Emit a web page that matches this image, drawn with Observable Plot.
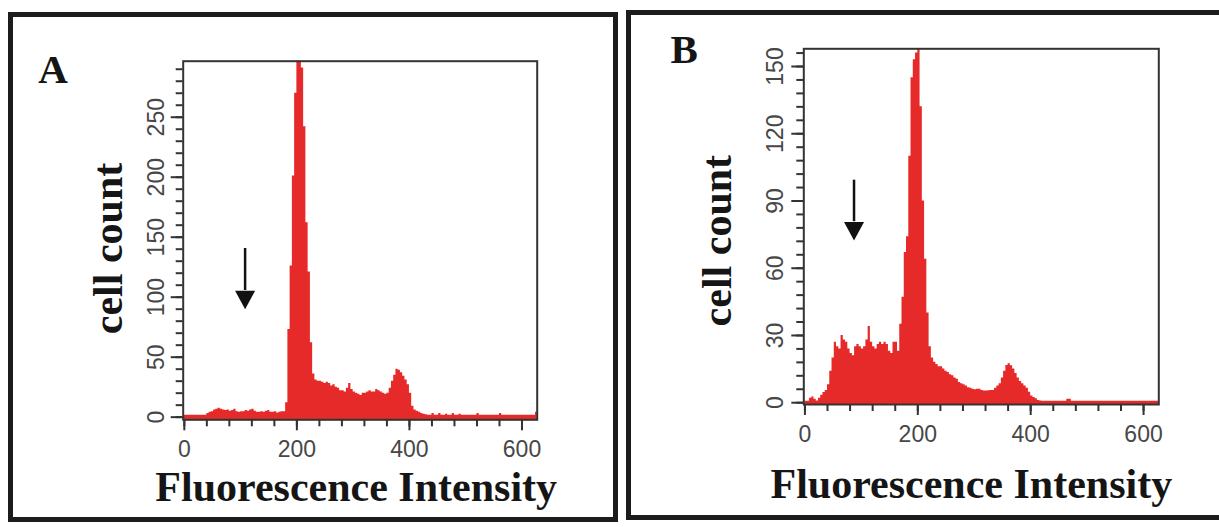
<!DOCTYPE html>
<html>
<head>
<meta charset="utf-8">
<script src="https://cdn.jsdelivr.net/npm/d3@7"></script>
<script src="https://cdn.jsdelivr.net/npm/@observablehq/plot@0.6"></script>
<style>
html, body { margin: 0; padding: 0; background: #fff; }
#wrap { position: relative; width: 1219px; height: 527px; overflow: hidden; background: #fff; }
.box { position: absolute; border: 5px solid #1c1c1c; box-sizing: border-box; }
.chart { position: absolute; top: 0; height: 527px; }
</style>
</head>
<body>
<div id="wrap">
  <div class="box" style="left:8px;top:12px;width:610px;height:510px"></div>
  <div class="box" style="left:626px;top:10px;width:620px;height:510px"></div>
  <div id="panelA" class="chart" style="left:0px;width:610px"></div>
  <div id="panelB" class="chart" style="left:620px;width:599px"></div>
</div>
<script>
// ---------- data ----------
const binWidth = 4;
const binStarts = [0,4,8,12,16,20,24,28,32,36,40,44,48,52,56,60,64,68,72,76,80,84,88,92,96,100,104,108,112,116,120,124,128,132,136,140,144,148,152,156,160,164,168,172,176,180,184,188,192,196,200,204,208,212,216,220,224,228,232,236,240,244,248,252,256,260,264,268,272,276,280,284,288,292,296,300,304,308,312,316,320,324,328,332,336,340,344,348,352,356,360,364,368,372,376,380,384,388,392,396,400,404,408,412,416,420,424,428,432,436,440,444,448,452,456,460,464,468,472,476,480,484,488,492,496,500,504,508,512,516,520,524,528,532,536,540,544,548,552,556,560,564,568,572,576,580,584,588,592,596,600,604,608,612,616,620,624];

const countsA = [
  1.5,1.5,1.5,1.5,1.5,1.5,1.5,1.5,1.5,1.5,
  3,4,4.5,6,6.5,7.5,6.5,6,5.5,6,
  5,5.5,6.5,4.5,4,4.5,4.5,5.5,5,6,
  6.5,5,4,4,4.5,4,5,5.5,4,4,
  4.5,3.5,4,4.5,4.5,12,73,126,201,270,
  300,297,291,242,162,121,62,36,31,30,
  30,29,28,29,28,26,27,25,24,22,
  22,21,24,28,23,21,20,19,18,20,
  20,21,22,21,21,23,22,21,20,19,
  20,24,30,35,40,39,37,34,31,27,
  20,9,6,5,4,3,2.5,2,1.5,1.5,
  3,1.5,1.5,3,1.5,1.5,2.5,1.5,1.5,3,
  1.5,1.5,2.5,1.5,1.5,1.5,1.5,1.5,1.5,1.5,
  3,1.5,1.5,1.5,1.5,1.5,1.5,1.5,1.5,1.5,
  3,1.5,1.5,1.5,1.5,1.5,1.5,1.5,1.5,1.5,
  1.5,1.5,1.5,1.5,1.5,1.5,4
];

const countsB = [
  0.7,0.7,2,2.5,1.5,0.8,2,3.3,4.5,5.5,
  8,14,20,27,25,24,30,28,27,24,
  22,21,25,26,25,24,25,28,34,27,
  25,24,26,27,26,27,26,23,22,27,
  27,23,35,47,67,74,110,145,153,156,
  160,132,90,64,40,25,20,18,17,16,
  16,15,14,13.5,12.5,12,11,10.5,9,8.5,
  8,7.5,6.7,6.5,6,5.8,6,6,5.5,5.2,
  5.2,5.3,5.5,5.5,6.5,7.5,8.5,11,14,16.6,
  17.4,16.5,15,13,11,9.5,8.5,7.5,6.5,4.7,
  3,2.3,1.8,1,0.8,0.7,0.7,0.7,0.7,0.7,
  0.7,0.7,0.7,0.7,0.7,0.7,1.5,1.5,0.7,0.7,
  0.7,0.7,0.7,0.7,0.7,0.7,0.7,0.7,0.7,0.7,
  0.7,0.7,0.7,0.7,0.7,0.7,0.7,0.7,0.7,0.7,
  0.7,0.7,0.7,0.7,0.7,0.7,0.7,0.7,0.7,0.7,
  0.7,0.7,0.7,0.7,0.7,0.7,0.7
];

const xMajorTicks = [0, 200, 400, 600];
const xMinorTicks = [0,40,80,120,160,200,240,280,320,360,400,440,480,520,560,600];
const yMajorTicksA = [0, 50, 100, 150, 200, 250];
const yMinorTicksA = [0,10,20,30,40,50,60,70,80,90,100,110,120,130,140,150,160,170,180,190,200,210,220,230,240,250,260,270,280,290];
const yMajorTicksB = [0, 30, 60, 90, 120, 150];
const yMinorTicksB = [0,6,12,18,24,30,36,42,48,54,60,66,72,78,84,90,96,102,108,114,120,126,132,138,144,150,156];

const panelLetters = ["A", "B"];
const xLabel = "Fluorescence Intensity";
const yLabel = "cell count";

// arrow annotations (data units)
const arrowA = {x: 108, top: 141, base: 106, tip: 90};
const arrowB = {x: 87, top: 99.5, base: 81, tip: 72.4};

// ---------- drawing ----------
const red = "#e62a2a";
const ink = "#333";
const sans = "Liberation Sans, Arial, sans-serif";
const serif = "Liberation Serif, Times New Roman, serif";

const headDown = {
  draw(context, size) {
    const r = Math.sqrt(size / Math.PI);
    context.moveTo(0, 0);
    context.lineTo(-r, -1.85 * r);
    context.lineTo(r, -1.85 * r);
    context.closePath();
  }
};

function makePanel(o) {
  const data = binStarts.map((x, i) => ({x, v: o.counts[i]}));
  data.push({x: binStarts[binStarts.length - 1] + binWidth, v: o.counts[o.counts.length - 1]});
  const y0 = o.yDomain[0];
  return Plot.plot({
    width: o.width,
    height: 527,
    marginLeft: o.ml, marginRight: o.mr, marginTop: o.mt, marginBottom: o.mb,
    style: {background: "transparent", overflow: "visible", maxWidth: "none"},
    x: {domain: [-2, 627], axis: null},
    y: {domain: o.yDomain, axis: null},
    marks: [
      Plot.areaY(data, {x: "x", y1: y0, y2: "v", curve: "step-after", fill: red, clip: true}),
      Plot.frame({stroke: ink, strokeWidth: 2}),
      Plot.axisX(xMinorTicks, {anchor: "bottom", tickSize: 7, strokeWidth: 2, stroke: ink, fill: "none"}),
      Plot.axisX(xMajorTicks, {anchor: "bottom", tickSize: 11, strokeWidth: 2, stroke: ink, fill: "none"}),
      Plot.axisY(o.yMinor, {anchor: "left", tickSize: 7, strokeWidth: 2, stroke: ink, fill: "none"}),
      Plot.axisY(o.yMajor, {anchor: "left", tickSize: 12, strokeWidth: 2, stroke: ink, fill: "none"}),
      Plot.text(xMajorTicks, {x: d => d, text: d => String(d), frameAnchor: "bottom", lineAnchor: "top",
        dy: 21, fontSize: 23, fill: "#474747", fontFamily: sans}),
      Plot.text(o.yMajor, {y: d => d, text: d => String(d), frameAnchor: "left", rotate: -90,
        textAnchor: "middle", lineAnchor: "bottom", dx: o.yTickDx, fontSize: 23, fill: "#474747", fontFamily: sans}),
      Plot.text([yLabel], {text: d => d, frameAnchor: "left", rotate: -90, textAnchor: "middle", lineAnchor: "bottom",
        dx: o.yLabelDx, dy: o.yLabelDy, fontSize: 42, fontWeight: "bold", fontFamily: serif, fill: "#151515"}),
      Plot.text([xLabel], {text: d => d, frameAnchor: "bottom", textAnchor: "middle", lineAnchor: "bottom",
        dx: o.xLabelDx, dy: o.xLabelDy, fontSize: 42, fontWeight: "bold", fontFamily: serif, fill: "#151515"}),
      Plot.text([o.letter], {text: d => d, frameAnchor: "top-left", textAnchor: "start", lineAnchor: "bottom",
        dx: o.letterDx, dy: o.letterDy, fontSize: 41, fontWeight: "bold", fontFamily: serif, fill: "#151515"}),
      Plot.link([o.arrow], {x1: "x", x2: "x", y1: "top", y2: "base", stroke: "#111", strokeWidth: 2.5}),
      Plot.dot([o.arrow], {x: "x", y: "tip", symbol: headDown, r: 10, fill: "#111", stroke: "none"})
    ]
  });
}

document.getElementById("panelA").append(makePanel({
  counts: countsA, yDomain: [-2.2, 296.7], yMajor: yMajorTicksA, yMinor: yMinorTicksA,
  width: 610, ml: 182.7, mr: 610 - 536.7, mt: 60.7, mb: 527 - 419.3,
  yTickDx: -19, yLabelDx: -61.7, yLabelDy: 8, xLabelDx: -4, xLabelDy: 80.7,
  letter: panelLetters[0], letterDx: -145, letterDy: 21.3, arrow: arrowA
}));

document.getElementById("panelB").append(makePanel({
  counts: countsB, yDomain: [-0.8, 157.9], yMajor: yMajorTicksB, yMinor: yMinorTicksB,
  width: 599, ml: 183.3, mr: 599 - 538.3, mt: 48.3, mb: 527 - 404,
  yTickDx: -20.5, yLabelDx: -73, yLabelDy: 14, xLabelDx: -10, xLabelDy: 93,
  letter: panelLetters[1], letterDx: -133.3, letterDy: 13.7, arrow: arrowB
}));
</script>
</body>
</html>
